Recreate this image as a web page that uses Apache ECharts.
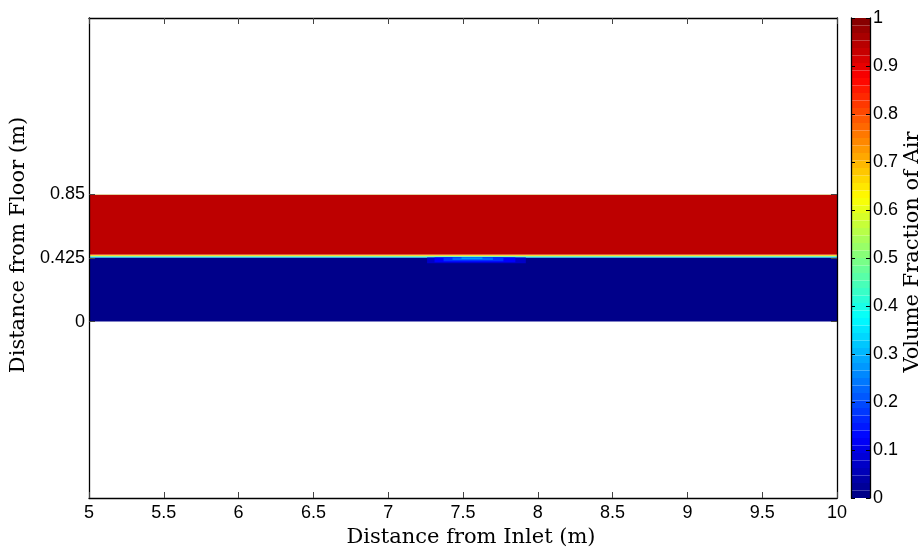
<!DOCTYPE html>
<html>
<head>
<meta charset="utf-8">
<script src="https://cdn.jsdelivr.net/npm/echarts@6/dist/echarts.min.js"></script>
<style>html,body{margin:0;padding:0;background:#fff}#c{width:923px;height:548px}</style>
</head>
<body>
<div id="c"></div>
<script>
// ---- data ----
const xRange = [5, 10];
const yRange = [-1.179, 2.029];
const yTickValues = [0, 0.425, 0.85];
const colorbarTicks = [0, 0.1, 0.2, 0.3, 0.4, 0.5, 0.6, 0.7, 0.8, 0.9, 1];

// horizontal layers of the field (volume fraction of air)
const bandBottoms = [0, 0.429, 0.434, 0.439, 0.444, 0.449, 0.847];
const bandTops    = [0.429, 0.434, 0.439, 0.444, 0.449, 0.847, 0.850];
const bandValues  = [0.01, 0.33, 0.47, 0.62, 0.78, 0.94, 0.55];

// dip of lighter blue under the interface near x = 7.55
const dipLeft    = [7.26, 7.31, 7.37, 7.43, 7.49];
const dipRight   = [7.92, 7.85, 7.77, 7.70, 7.63];
const dipBottoms = [0.390, 0.397, 0.404, 0.411, 0.418];
const dipTops    = [0.429, 0.429, 0.429, 0.429, 0.429];
const dipValues  = [0.07, 0.12, 0.17, 0.22, 0.27];

const jetStops = ['#000080','#0000FF','#0080FF','#00FFFF','#80FF80','#FFFF00','#FF8000','#FF0000','#800000'];
const nLevels = 64;

// ---- build ----
const fieldData = [];
for (let i = 0; i < bandValues.length; i++) {
  fieldData.push([xRange[0], xRange[1], bandBottoms[i], bandTops[i], bandValues[i]]);
}
for (let i = 0; i < dipValues.length; i++) {
  fieldData.push([dipLeft[i], dipRight[i], dipBottoms[i], dipTops[i], dipValues[i]]);
}
const cbData = [];
for (let i = 0; i < nLevels; i++) {
  cbData.push([0, 1, i / nLevels, (i + 1) / nLevels, (i + 0.5) / nLevels]);
}

function renderRect(params, api) {
  const p0 = api.coord([api.value(0), api.value(3)]);
  const p1 = api.coord([api.value(1), api.value(2)]);
  return {
    type: 'rect',
    shape: { x: p0[0], y: p0[1], width: p1[0] - p0[0], height: p1[1] - p0[1] },
    style: { fill: api.visual('color'), stroke: null }
  };
}

const labelFont = { fontFamily: 'Liberation Sans', fontSize: 18, color: '#000' };
const titleFont = { fontFamily: 'DejaVu Serif', fontSize: 21, color: '#000' };
const lineStyle = { color: '#000', width: 1.3 };
const tickStyle = { color: '#444', width: 1 };

const chart = echarts.init(document.getElementById('c'));
chart.setOption({
  animation: false,
  backgroundColor: '#fff',
  grid: [
    { left: 89, top: 18, width: 748, height: 480, outerBoundsMode: 'none', containLabel: false },
    { left: 851, top: 18, width: 19, height: 480, outerBoundsMode: 'none', containLabel: false }
  ],
  visualMap: {
    show: false, type: 'continuous', min: 0, max: 1, dimension: 4,
    seriesIndex: [0, 1], inRange: { color: jetStops }
  },
  xAxis: [
    { gridIndex: 0, type: 'value', min: xRange[0], max: xRange[1], interval: 0.5, position: 'bottom', z: 10,
      name: 'Distance from Inlet (m)', nameLocation: 'middle', nameGap: 21,
      nameTextStyle: Object.assign({ padding: [0, 0, 0, 16] }, titleFont),
      axisLine: { show: true, onZero: false, lineStyle }, axisTick: { show: true, inside: true, length: 6, lineStyle: tickStyle },
      axisLabel: Object.assign({ margin: 6 }, labelFont), splitLine: { show: false } },
    { gridIndex: 0, type: 'value', min: xRange[0], max: xRange[1], interval: 0.5, position: 'top', z: 10,
      axisLine: { show: true, onZero: false, lineStyle }, axisTick: { show: true, inside: true, length: 6, lineStyle: tickStyle },
      axisLabel: { show: false }, splitLine: { show: false } },
    { gridIndex: 1, type: 'value', min: 0, max: 1, show: false }
  ],
  yAxis: [
    { gridIndex: 0, type: 'value', min: yRange[0], max: yRange[1], position: 'left', z: 10,
      name: 'Distance from Floor (m)', nameLocation: 'middle', nameGap: 57,
      nameTextStyle: Object.assign({ padding: [0, 0, 0, 26] }, titleFont),
      axisLine: { show: true, onZero: false, lineStyle },
      axisTick: { show: true, inside: true, length: 6, lineStyle: tickStyle, customValues: yTickValues },
      axisLabel: Object.assign({ margin: 4, customValues: yTickValues, formatter: v => String(v) }, labelFont),
      splitLine: { show: false } },
    { gridIndex: 0, type: 'value', min: yRange[0], max: yRange[1], position: 'right', z: 10,
      axisLine: { show: true, onZero: false, lineStyle },
      axisTick: { show: true, inside: true, length: 6, lineStyle: tickStyle, customValues: yTickValues },
      axisLabel: { show: false }, splitLine: { show: false } },
    { gridIndex: 1, type: 'value', min: 0, max: 1, interval: 0.1, position: 'right', z: 10,
      name: 'Volume Fraction of Air', nameLocation: 'middle', nameGap: 31,
      nameTextStyle: Object.assign({ padding: [0, 0, 0, 12] }, titleFont),
      axisLine: { show: true, onZero: false, lineStyle },
      axisTick: { show: true, inside: true, length: 4, lineStyle: { color: '#000', width: 1 } },
      axisLabel: Object.assign({ margin: 3, formatter: v => String(Math.round(v * 10) / 10) }, labelFont),
      splitLine: { show: false } },
    { gridIndex: 1, type: 'value', min: 0, max: 1, interval: 0.1, position: 'left', z: 10,
      axisLine: { show: true, onZero: false, lineStyle },
      axisTick: { show: true, inside: true, length: 4, lineStyle: { color: '#000', width: 1 } },
      axisLabel: { show: false }, splitLine: { show: false } }
  ],
  series: [
    { type: 'custom', xAxisIndex: 0, yAxisIndex: 0, renderItem: renderRect, data: fieldData,
      encode: { x: [0, 1], y: [2, 3] }, clip: true },
    { type: 'custom', xAxisIndex: 2, yAxisIndex: 2, renderItem: renderRect, data: cbData,
      encode: { x: [0, 1], y: [2, 3] } }
  ]
});
</script>
</body>
</html>
